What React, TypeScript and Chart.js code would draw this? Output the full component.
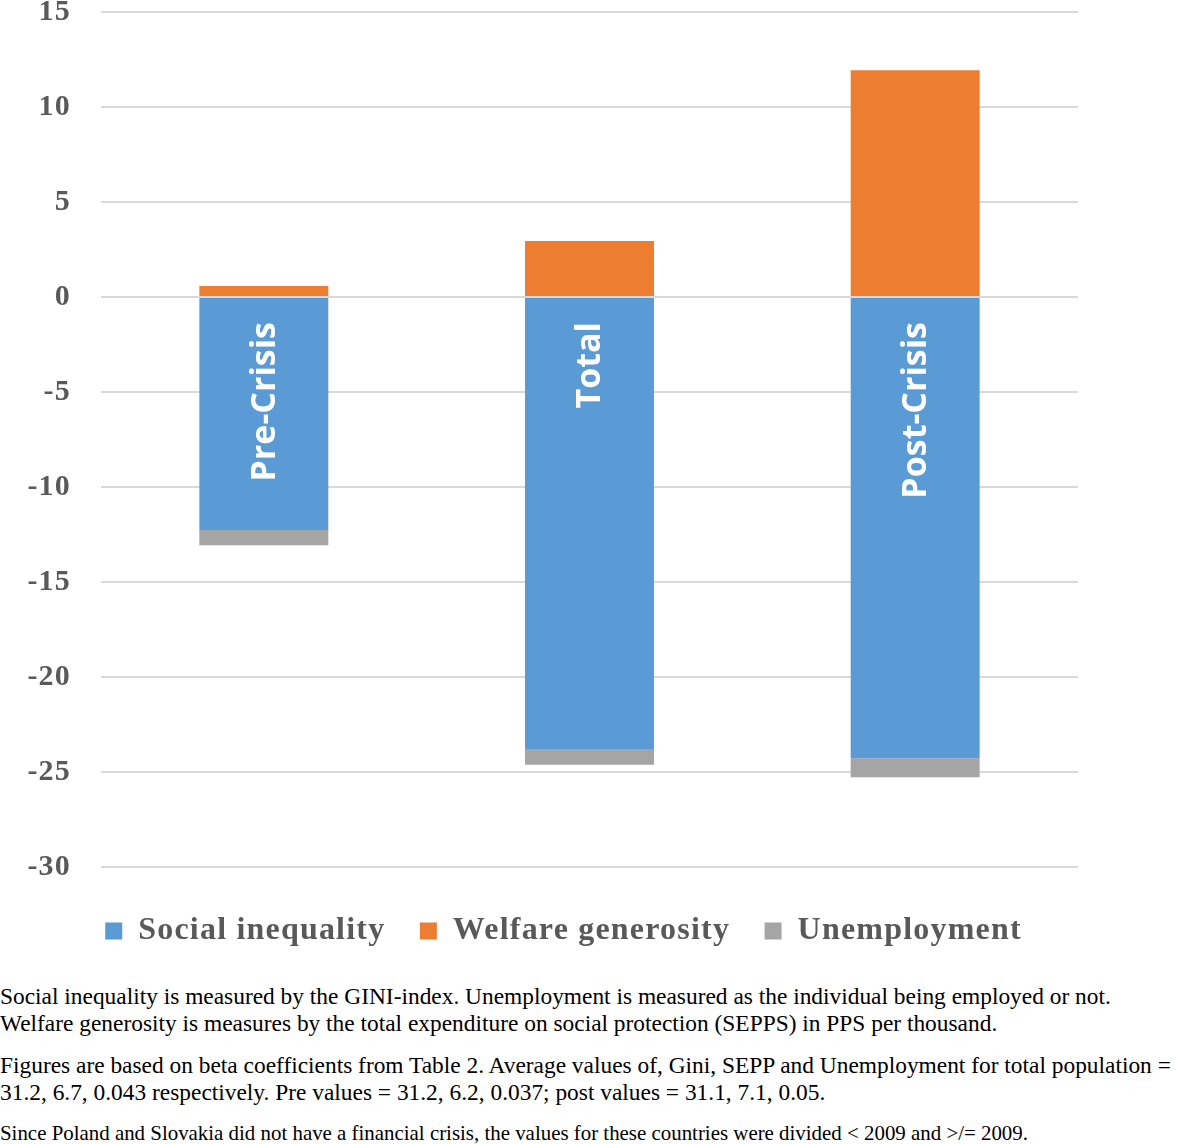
import React, { useEffect, useRef } from "react";
import { Chart, registerables } from "chart.js";

Chart.register(...registerables);

const categories = ["Pre-Crisis", "Total", "Post-Crisis"];
const socialInequality = [-12.26, -23.83, -24.27];
const welfareGenerosity = [0.58, 2.95, 11.94];
const unemployment = [-0.8, -0.79, -1.0];
const seriesNames = ["Social inequality", "Welfare generosity", "Unemployment"];
const yMin = -30;
const yMax = 15;
const yStep = 5;

const captionParagraphs = [
  [
    "Social inequality is measured by the GINI-index. Unemployment is measured as the individual being employed or not.",
    "Welfare generosity is measures by the total expenditure on social protection (SEPPS) in PPS per thousand.",
  ],
  [
    "Figures are based on beta coefficients from Table 2. Average values of, Gini, SEPP and Unemployment for total population =",
    "31.2, 6.7, 0.043 respectively. Pre values = 31.2, 6.2, 0.037; post values = 31.1, 7.1, 0.05.",
  ],
  [
    "Since Poland and Slovakia did not have a financial crisis, the values for these countries were divided < 2009 and >/= 2009.",
  ],
];

const spacingPlugin = {
  id: "letterSpacing",
  beforeInit(chart: any) {
    chart.ctx.letterSpacing = "1.2px";
  },
  beforeLayout(chart: any) {
    chart.ctx.letterSpacing = "1.2px";
  },
  afterLayout(chart: any) {
    if (chart.legend) {
      chart.legend.left += 14.5;
      chart.legend.right += 14.5;
    }
  },
  beforeDraw(chart: any) {
    chart.ctx.letterSpacing = "1.2px";
  },
};

const barLabelPlugin = {
  id: "barLabels",
  afterDatasetsDraw(chart: any) {
    const { ctx, scales } = chart;
    const y = scales.y;
    const zeroY = y.getPixelForValue(0);
    ctx.save();
    ctx.strokeStyle = "#D9D9D9";
    ctx.lineWidth = 2;
    ctx.beginPath();
    ctx.moveTo(chart.chartArea.left, zeroY);
    ctx.lineTo(chart.chartArea.right, zeroY);
    ctx.stroke();
    ctx.restore();

    const meta = chart.getDatasetMeta(0);
    ctx.save();
    ctx.letterSpacing = "0px";
    ctx.fillStyle = "#FFFFFF";
    ctx.font = "bold 34px 'Open Sans'";
    ctx.textAlign = "right";
    ctx.textBaseline = "middle";
    meta.data.forEach((bar: any, i: number) => {
      ctx.save();
      ctx.translate(bar.x, zeroY + 25);
      ctx.rotate(-Math.PI / 2);
      ctx.fillText(categories[i], 0, 1);
      ctx.restore();
    });
    ctx.restore();
  },
};

export default function App() {
  const canvasRef = useRef<HTMLCanvasElement | null>(null);

  useEffect(() => {
    if (!canvasRef.current) return;
    const common = { barPercentage: 0.396, categoryPercentage: 1 };
    const chart = new Chart(canvasRef.current, {
      type: "bar",
      data: {
        labels: categories,
        datasets: [
          { label: seriesNames[0], data: socialInequality, backgroundColor: "#5B9BD5", ...common },
          { label: seriesNames[1], data: welfareGenerosity, backgroundColor: "#ED7D31", ...common },
          { label: seriesNames[2], data: unemployment, backgroundColor: "#A5A5A5", ...common },
        ],
      },
      options: {
        responsive: false,
        animation: false,
        devicePixelRatio: 1,
        layout: { padding: { left: 20, right: 103, top: 12, bottom: 11 } },
        plugins: {
          legend: {
            position: "bottom",
            labels: {
              boxWidth: 17,
              boxHeight: 17,
              padding: 34.5,
              color: "#595959",
              font: { family: "'Liberation Serif'", size: 32, weight: "bold" },
            },
          },
          tooltip: { enabled: false },
        },
        scales: {
          x: {
            stacked: true,
            display: true,
            grid: { display: false },
            border: { display: false },
            ticks: { display: false },
            afterFit(scale: any) {
              scale.height = 13.5;
            },
          },
          y: {
            stacked: true,
            min: yMin,
            max: yMax,
            border: { display: false },
            grid: { color: "#D9D9D9", lineWidth: 2, drawTicks: false },
            ticks: {
              stepSize: yStep,
              padding: 30,
              color: "#595959",
              font: { family: "'Liberation Serif'", size: 30, weight: "bold" },
            },
            afterFit(scale: any) {
              scale.width = 81;
              scale.paddingTop = 0;
            },
          },
        },
      },
      plugins: [spacingPlugin, barLabelPlugin],
    });
    return () => chart.destroy();
  }, []);

  return (
    <div style={{ width: 1181 }}>
      <style>{"body{margin:0}"}</style>
      <canvas ref={canvasRef} width={1181} height={968} style={{ display: "block", width: 1181, height: 968 }} />
      <div
        style={{
          fontFamily: "'Liberation Serif', 'Times New Roman', serif",
          lineHeight: "27px",
          color: "#000",
          marginTop: 15,
          whiteSpace: "nowrap",
        }}
      >
        {captionParagraphs.map((para, i) => (
          <div key={i} style={{ marginBottom: i === 0 ? 15 : 14, fontSize: i === 2 ? 20.9 : 23.4 }}>
            {para.map((line, j) => (
              <div key={j}>{line}</div>
            ))}
          </div>
        ))}
      </div>
    </div>
  );
}
